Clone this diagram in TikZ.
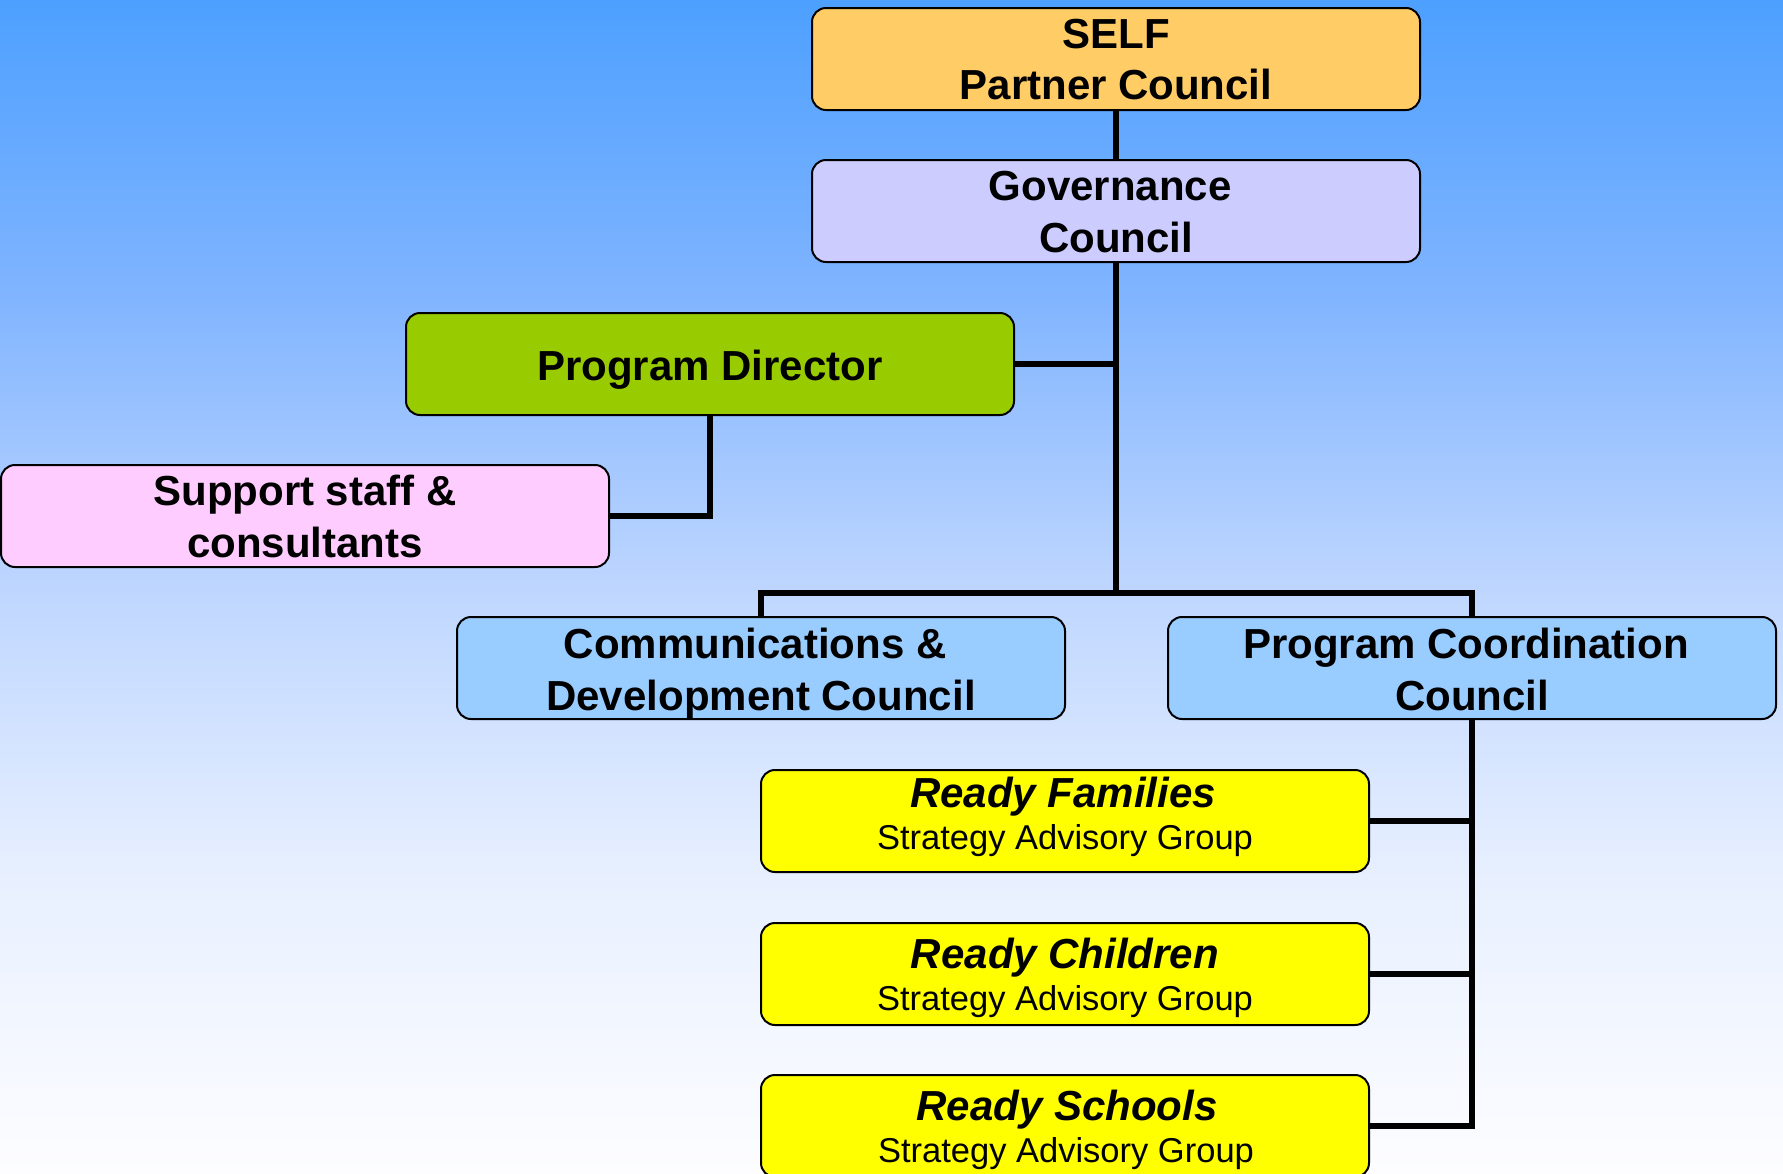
\documentclass[tikz,border=0pt]{standalone}
\usepackage{fontspec}
\setmainfont{Liberation Sans}
\newcommand\hdfont{\fontsize{42}{51}\selectfont\bfseries}
\newcommand\hdifont{\fontsize{42}{51}\selectfont\bfseries\itshape}
\newcommand\sbfont{\fontsize{34.5}{40}\selectfont}
\newcommand\tsp{\hspace*{0.28em}}
\definecolor{bgA}{RGB}{77,160,255}
\definecolor{bgB}{RGB}{128,180,255}
\definecolor{bgC}{RGB}{190,214,255}
\definecolor{bgD}{RGB}{232,240,255}
\definecolor{bgE}{RGB}{253,253,255}
\definecolor{selfc}{RGB}{255,204,102}
\definecolor{govc}{RGB}{204,204,255}
\definecolor{pdc}{RGB}{153,204,0}
\definecolor{supc}{RGB}{255,204,255}
\definecolor{councilc}{RGB}{153,204,255}
\definecolor{readyc}{RGB}{255,255,0}
\pgfdeclareverticalshading{bgshade}{100bp}{color(0bp)=(bgE); color(25bp)=(bgE); color(37.5bp)=(bgD); color(50bp)=(bgC); color(62.5bp)=(bgB); color(75bp)=(bgA); color(100bp)=(bgA)}
\begin{document}
\begin{tikzpicture}[x=1pt,y=-1pt,
  box/.style={draw=black, line width=2pt, rounded corners=14pt, minimum width=608pt, minimum height=102pt, inner sep=0pt},
  hd/.style={anchor=base, inner sep=0pt, font=\hdfont, text=black},
  hdi/.style={anchor=base, inner sep=0pt, font=\hdifont, text=black},
  sb/.style={anchor=base, inner sep=0pt, font=\sbfont, text=black},
  conn/.style={draw=black, line width=5.5pt, line join=miter}]
\useasboundingbox (0,0) rectangle (1783,1173);
\shade[shading=bgshade] (0,0) rectangle (1783,1173);

% boxes
\node[box, fill=selfc] (self) at (1116,59) {};
\node[box, fill=govc] (gov) at (1116,211) {};
\node[box, fill=pdc] (pd) at (710,364) {};
\node[box, fill=supc] (sup) at (305,516) {};
\node[box, fill=councilc] (comms) at (761,668) {};
\node[box, fill=councilc] (pc) at (1472,668) {};
\node[box, fill=readyc] (rf) at (1065,821) {};
\node[box, fill=readyc] (rc) at (1065,974) {};
\node[box, fill=readyc] (rs) at (1065,1126) {};

% connectors
\coordinate (jbus) at (1116,593);
\draw[conn] (self.south) -- (gov.north);
\draw[conn] (gov.south) -- (jbus);
\draw[conn] (pd.east) -- (pd.east -| gov.south);
\draw[conn] (pd.south) |- (sup.east);
\draw[conn] (comms.north) |- (jbus) -| (pc.north);
\draw[conn] (pc.south) |- (rs.east);
\draw[conn] (rf.east) -- (rf.east -| pc.south);
\draw[conn] (rc.east) -- (rc.east -| pc.south);

% texts
\node[hd] (self-a) at (1116,48) {SELF};
\node[hd] (self-b) at (1116,99) {Partner Council};
\node[hd] (gov-a) at (1116,200) {Governance\tsp};
\node[hd] (gov-b) at (1116,252) {Council};
\node[hd] (pd-a) at (710,380) {Program Director};
\node[hd] (sup-a) at (305,505) {Support staff \&};
\node[hd] (sup-b) at (305,557) {consultants};
\node[hd] (comms-a) at (761,658) {Communications \&\tsp};
\node[hd] (comms-b) at (761,710) {Development Council};
\node[hd] (pc-a) at (1472,658) {Program Coordination\tsp};
\node[hd] (pc-b) at (1472,710) {Council};
\node[hdi] (rf-a) at (1063,807) {Ready Families};
\node[sb] (rf-b) at (1065,849) {Strategy Advisory Group};
\node[hdi] (rc-a) at (1065,968) {Ready Children};
\node[sb] (rc-b) at (1065,1010) {Strategy Advisory Group};
\node[hdi] (rs-a) at (1067,1120) {Ready Schools};
\node[sb] (rs-b) at (1066,1162) {Strategy Advisory Group};
\end{tikzpicture}
\end{document}
